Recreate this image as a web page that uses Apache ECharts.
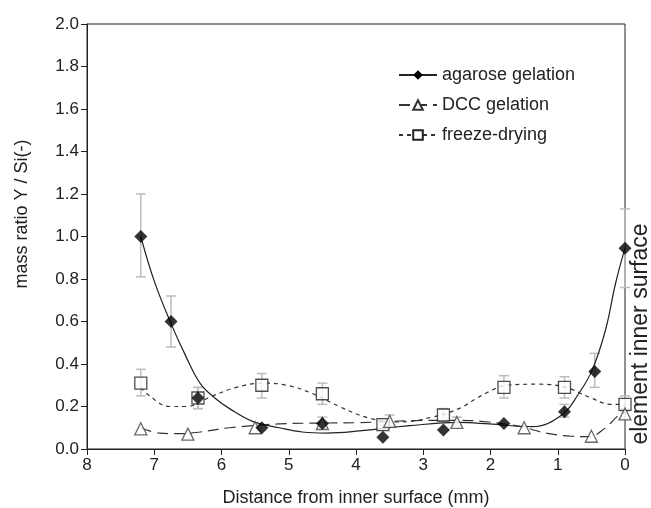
<!DOCTYPE html>
<html>
<head>
<meta charset="utf-8">
<script src="https://cdn.jsdelivr.net/npm/echarts@6/dist/echarts.min.js"></script>
<style>
  html, body { margin: 0; padding: 0; background: #fff; }
  #chart { width: 651px; height: 508px; }
</style>
</head>
<body>
<div id="chart"></div>
<script>
  // measured points
  const agaroseX = [7.2, 6.75, 6.35, 5.4, 4.5, 3.6, 2.7, 1.8, 0.9, 0.45, 0];
  const agaroseY = [1.0, 0.60, 0.24, 0.10, 0.12, 0.055, 0.09, 0.12, 0.175, 0.365, 0.945];
  const dccX = [7.2, 6.5, 5.5, 4.5, 3.5, 2.5, 1.5, 0.5, 0];
  const dccY = [0.095, 0.07, 0.10, 0.12, 0.13, 0.125, 0.10, 0.06, 0.165];
  const freezeX = [7.2, 6.35, 5.4, 4.5, 3.6, 2.7, 1.8, 0.9, 0];
  const freezeY = [0.31, 0.24, 0.30, 0.26, 0.115, 0.16, 0.29, 0.29, 0.21];

  // error bars (x, low, high)
  const agaroseErrX = [7.2, 6.75, 6.35, 4.5, 0.9, 0.45, 0];
  const agaroseErrLow = [0.81, 0.48, 0.19, 0.10, 0.15, 0.29, 0.76];
  const agaroseErrHigh = [1.20, 0.72, 0.29, 0.15, 0.21, 0.45, 1.13];
  const dccErrX = [3.5, 2.5, 0];
  const dccErrLow = [0.11, 0.11, 0.14];
  const dccErrHigh = [0.16, 0.15, 0.19];
  const freezeErrX = [7.2, 6.35, 5.4, 4.5, 3.6, 2.7, 1.8, 0.9, 0];
  const freezeErrLow = [0.25, 0.19, 0.24, 0.21, 0.09, 0.13, 0.24, 0.24, 0.18];
  const freezeErrHigh = [0.375, 0.29, 0.355, 0.31, 0.14, 0.19, 0.345, 0.34, 0.25];

  // fitted curves
  const agaroseFitX = [7.2, 7.0, 6.75, 6.55, 6.32, 6.1, 5.88, 5.54, 5.14, 4.8, 4.44, 3.95, 3.2, 2.47, 2.02, 1.38, 0.94, 0.69, 0.49, 0.29, 0.14, 0];
  const agaroseFitY = [1.0, 0.79, 0.59, 0.45, 0.31, 0.24, 0.19, 0.13, 0.10, 0.08, 0.075, 0.085, 0.11, 0.125, 0.118, 0.105, 0.16, 0.26, 0.37, 0.56, 0.78, 0.945];
  const dccFitX = [7.2, 6.92, 6.62, 6.32, 5.88, 5.14, 4.5, 3.95, 3.2, 2.5, 2.02, 1.53, 1.18, 0.79, 0.54, 0.29, 0.09, 0];
  const dccFitY = [0.10, 0.075, 0.072, 0.08, 0.10, 0.118, 0.122, 0.124, 0.133, 0.135, 0.127, 0.104, 0.075, 0.06, 0.058, 0.10, 0.16, 0.17];
  const freezeFitX = [7.2, 7.11, 6.77, 6.52, 6.13, 5.78, 5.39, 5.03, 4.64, 4.25, 3.8, 3.36, 2.87, 2.47, 2.2, 2.02, 1.77, 1.28, 0.88, 0.54, 0.2, 0];
  const freezeFitY = [0.29, 0.26, 0.20, 0.20, 0.25, 0.29, 0.31, 0.30, 0.26, 0.20, 0.145, 0.127, 0.15, 0.19, 0.24, 0.27, 0.30, 0.305, 0.29, 0.245, 0.21, 0.21];

  const names = ['agarose gelation', 'DCC gelation', 'freeze-drying'];

  const zip = (xs, ys) => xs.map((x, i) => [x, ys[i]]);
  const zip3 = (xs, lo, hi) => xs.map((x, i) => [x, lo[i], hi[i]]);

  const errorBar = (name, data) => ({
    name: name,
    type: 'custom',
    z: 1,
    silent: true,
    data: data,
    renderItem: function (params, api) {
      const top = api.coord([api.value(0), api.value(2)]);
      const bot = api.coord([api.value(0), api.value(1)]);
      const hw = 5;
      const style = { stroke: '#bdbdbd', lineWidth: 1.5 };
      return {
        type: 'group',
        children: [
          { type: 'line', shape: { x1: top[0], y1: top[1], x2: bot[0], y2: bot[1] }, style: style },
          { type: 'line', shape: { x1: top[0] - hw, y1: top[1], x2: top[0] + hw, y2: top[1] }, style: style },
          { type: 'line', shape: { x1: bot[0] - hw, y1: bot[1], x2: bot[0] + hw, y2: bot[1] }, style: style },
        ],
      };
    },
  });

  const textFont = 'Liberation Sans, Arial, sans-serif';

  const option = {
    animation: false,
    textStyle: { fontFamily: textFont },
    grid: {
      left: 87,
      right: 26,
      top: 24,
      bottom: 59,
      show: true,
      borderColor: '#222',
      borderWidth: 1,
      outerBoundsMode: 'none',
      containLabel: false,
    },
    legend: {
      data: names,
      orient: 'vertical',
      left: 393,
      top: 61,
      itemWidth: 38,
      itemHeight: 12,
      itemGap: 12,
      textStyle: { fontSize: 18, color: '#222', fontFamily: textFont },
    },
    xAxis: {
      type: 'value',
      min: 0,
      max: 8,
      interval: 1,
      inverse: true,
      name: 'Distance from inner surface (mm)',
      nameLocation: 'middle',
      nameGap: 40,
      nameTextStyle: { fontSize: 18, color: '#222' },
      axisLine: { onZero: false, lineStyle: { color: '#222', width: 1 } },
      axisTick: { inside: false, length: 6, lineStyle: { color: '#222' } },
      axisLabel: { fontSize: 17, color: '#222', margin: 8 },
      splitLine: { show: false },
    },
    yAxis: {
      type: 'value',
      min: 0,
      max: 2,
      interval: 0.2,
      axisLine: { show: true, onZero: false, lineStyle: { color: '#222', width: 1 } },
      axisTick: { show: true, inside: false, length: 6, lineStyle: { color: '#222' } },
      axisLabel: {
        fontSize: 17,
        color: '#222',
        margin: 8,
        formatter: (v) => v.toFixed(1),
      },
      splitLine: { show: false },
    },
    graphic: [
      {
        type: 'text',
        x: 22,
        y: 214,
        rotation: Math.PI / 2,
        style: {
          text: 'mass ratio Y / Si(-)',
          fontSize: 18,
          fill: '#222',
          fontFamily: textFont,
          align: 'center',
          verticalAlign: 'middle',
        },
      },
      {
        type: 'text',
        x: 641,
        y: 334,
        rotation: Math.PI / 2,
        style: {
          text: 'element inner surface',
          fontSize: 23,
          fill: '#222',
          fontFamily: textFont,
          align: 'center',
          verticalAlign: 'middle',
        },
      },
    ],
    series: [
      {
        name: names[0],
        type: 'line',
        data: zip(agaroseFitX, agaroseFitY),
        smooth: 0.4,
        showSymbol: false,
        symbol: 'diamond',
        symbolSize: 12,
        itemStyle: { color: '#000' },
        lineStyle: { color: '#222', width: 1.2, type: 'solid' },
        z: 2,
      },
      {
        name: names[1],
        type: 'line',
        data: zip(dccFitX, dccFitY),
        smooth: 0.4,
        showSymbol: false,
        symbol: 'triangle',
        symbolSize: 10,
        itemStyle: { color: '#fff', borderColor: '#333', borderWidth: 1.2 },
        lineStyle: { color: '#333', width: 1.2, type: [11, 6] },
        z: 2,
      },
      {
        name: names[2],
        type: 'line',
        data: zip(freezeFitX, freezeFitY),
        smooth: 0.4,
        showSymbol: false,
        symbol: 'rect',
        symbolSize: 10,
        itemStyle: { color: '#fff', borderColor: '#222', borderWidth: 1.2 },
        lineStyle: { color: '#333', width: 1.2, type: [4, 4] },
        z: 2,
      },
      errorBar(names[0], zip3(agaroseErrX, agaroseErrLow, agaroseErrHigh)),
      errorBar(names[1], zip3(dccErrX, dccErrLow, dccErrHigh)),
      errorBar(names[2], zip3(freezeErrX, freezeErrLow, freezeErrHigh)),
      {
        name: names[2],
        type: 'scatter',
        data: zip(freezeX, freezeY),
        symbol: 'rect',
        symbolSize: 12,
        itemStyle: { color: '#fff', borderColor: '#222', borderWidth: 1.3 },
        z: 3,
      },
      {
        name: names[1],
        type: 'scatter',
        data: zip(dccX, dccY),
        symbol: 'triangle',
        symbolSize: 12,
        itemStyle: { color: '#fff', borderColor: '#444', borderWidth: 1.3 },
        z: 3,
      },
      {
        name: names[0],
        type: 'scatter',
        data: zip(agaroseX, agaroseY),
        symbol: 'diamond',
        symbolSize: 13,
        itemStyle: { color: '#000' },
        z: 4,
      },
    ],
  };

  const chart = echarts.init(document.getElementById('chart'));
  chart.setOption(option);
</script>
</body>
</html>
